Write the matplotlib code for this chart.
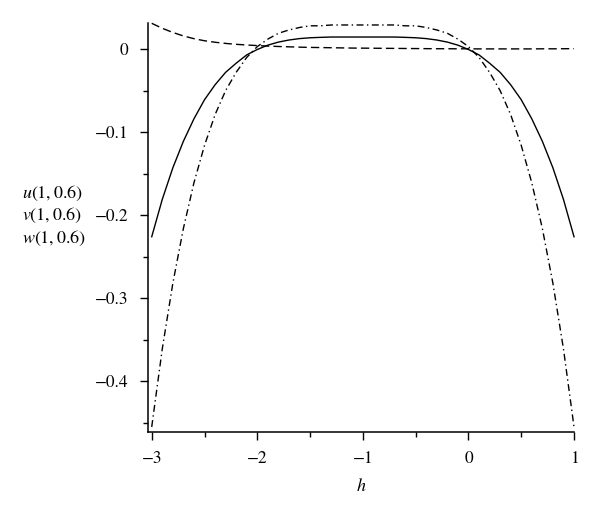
import numpy as np
import matplotlib
matplotlib.use('Agg')
import matplotlib.pyplot as plt

plt.rcParams['font.family'] = 'STIXGeneral'
plt.rcParams['mathtext.fontset'] = 'stix'

# values
h = [-3.0, -2.9, -2.8, -2.7, -2.6, -2.5, -2.4, -2.3, -2.2, -2.1, -2.0,
     -1.9, -1.8, -1.7, -1.6, -1.5, -1.4, -1.3, -1.2, -1.1, -1.0,
     -0.9, -0.8, -0.7, -0.6, -0.5, -0.4, -0.3, -0.2, -0.1, 0.0,
     0.1, 0.2, 0.3, 0.4, 0.5, 0.6, 0.7, 0.8, 0.9, 1.0]
u = [-0.226, -0.181, -0.143, -0.111, -0.084, -0.061, -0.043, -0.028, -0.017, -0.007, -0.0005,
     0.0047, 0.0084, 0.0109, 0.0126, 0.0136, 0.0141, 0.0145, 0.0145, 0.0145, 0.0145,
     0.0145, 0.0145, 0.0145, 0.0141, 0.0136, 0.0126, 0.0109, 0.0084, 0.0047, -0.0005,
     -0.007, -0.017, -0.028, -0.043, -0.061, -0.084, -0.111, -0.143, -0.181, -0.226]
v = [0.031, 0.025, 0.020, 0.0158, 0.0125, 0.0100, 0.0082, 0.0068, 0.0057, 0.0049, 0.0042,
     0.0036, 0.0031, 0.0027, 0.0023, 0.0020, 0.0018, 0.0016, 0.0014, 0.0012, 0.0011,
     0.0010, 0.0009, 0.0008, 0.0007, 0.0006, 0.0005, 0.0004, 0.0004, 0.0003, 0.0003,
     0.0002, 0.0002, 0.0002, 0.0002, 0.0002, 0.0002, 0.0003, 0.0003, 0.0004, 0.0005]
w = [-0.455, -0.361, -0.282, -0.216, -0.161, -0.116, -0.079, -0.050, -0.028, -0.010, 0.003,
     0.012, 0.019, 0.023, 0.026, 0.028, 0.028, 0.029, 0.029, 0.029, 0.029,
     0.029, 0.029, 0.029, 0.028, 0.028, 0.026, 0.023, 0.019, 0.012, 0.003,
     -0.010, -0.028, -0.050, -0.079, -0.116, -0.161, -0.216, -0.282, -0.361, -0.455]

x_ticks = [-3, -2, -1, 0, 1]
y_ticks = [0, -0.1, -0.2, -0.3, -0.4]
y_labels = ['0', '\u22120.1', '\u22120.2', '\u22120.3', '\u22120.4']
x_labels = ['\u22123', '\u22122', '\u22121', '0', '1']

fig = plt.figure(figsize=(6, 5.08), dpi=100)
ax = fig.add_axes([0.2467, 0.1502, 0.71, 0.8039])

ax.plot(h, u, color='black', lw=1.0, clip_on=False)
ax.plot(h, v, color='black', lw=1.0, dashes=(6, 3), clip_on=False)
ax.plot(h, w, color='black', lw=1.0, dashes=(5, 2.5, 1, 2.5), clip_on=False)

ax.set_xlim(-3.035, 1.0)
ax.set_ylim(-0.4607, 0.031)

ax.spines['top'].set_visible(False)
ax.spines['right'].set_visible(False)
for s in ['left', 'bottom']:
    ax.spines[s].set_linewidth(1.1)

ax.set_xticks(x_ticks)
ax.set_xticklabels(x_labels)
ax.set_xticks([-2.5, -1.5, -0.5, 0.5], minor=True)
ax.set_yticks(y_ticks)
ax.set_yticklabels(y_labels)
ax.set_yticks([-0.05, -0.15, -0.25, -0.35, -0.45], minor=True)
ax.tick_params(which='major', length=6, width=1.0, labelsize=12.5, pad=8)
ax.tick_params(which='minor', length=3.5, width=1.0)

ax.set_xlabel('$h$', fontsize=13, labelpad=8)
fig.text(0.037, 0.62, '$u(1,0.6)$', fontsize=13, va='center')
fig.text(0.037, 0.576, '$v(1,0.6)$', fontsize=13, va='center')
fig.text(0.037, 0.531, '$w(1,0.6)$', fontsize=13, va='center')

fig.savefig('out.png', dpi=100)
